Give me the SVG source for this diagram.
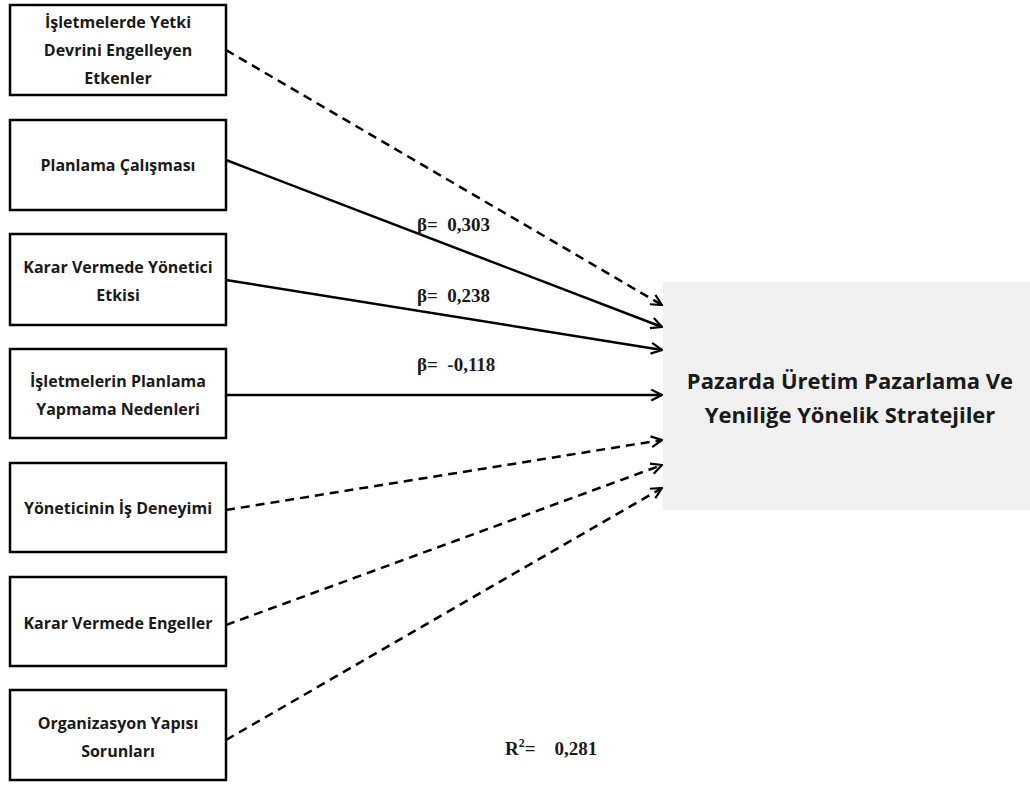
<svg xmlns="http://www.w3.org/2000/svg" width="1030" height="785" viewBox="0 0 1030 785">
<style>
.box{fill:#fff;stroke:#000;stroke-width:2.5}
.lbl{font-family:"Open Sans","Noto Sans",sans-serif;font-weight:700;font-size:16px;fill:#1a1a1a;text-anchor:middle}
.tgt{font-family:"Open Sans","Noto Sans",sans-serif;font-weight:700;font-size:22px;fill:#1a1a1a;text-anchor:middle}
.beta{font-family:"Liberation Serif",serif;font-weight:700;font-size:19px;fill:#1a1a1a;white-space:pre}
.solid{stroke:#000;stroke-width:2.5;fill:none;marker-end:url(#arr)}
.dash{stroke:#000;stroke-width:2.5;fill:none;stroke-dasharray:9,6;marker-end:url(#arr)}
</style>
<defs>
<marker id="arr" viewBox="0 0 12 12" refX="11" refY="6" markerWidth="13" markerHeight="13" orient="auto" markerUnits="userSpaceOnUse">
<path d="M1,1 L11,6 L1,11" fill="none" stroke="#000" stroke-width="2"/>
</marker>
</defs>
<rect width="1030" height="785" fill="#fff"/>
<g id="target">
<rect x="663" y="282" width="367" height="228" fill="#f0f0f0"/>
<text class="tgt" x="850" y="389">Pazarda Üretim Pazarlama Ve</text>
<text class="tgt" x="850" y="423">Yeniliğe Yönelik Stratejiler</text>
</g>
<g id="n1"><rect class="box" x="10" y="5" width="216" height="90"/>
<text class="lbl" x="118" y="28">İşletmelerde Yetki</text>
<text class="lbl" x="118" y="56">Devrini Engelleyen</text>
<text class="lbl" x="118" y="84">Etkenler</text></g>
<g id="n2"><rect class="box" x="10" y="120" width="216" height="90"/>
<text class="lbl" x="118" y="171">Planlama Çalışması</text></g>
<g id="n3"><rect class="box" x="10" y="234" width="216" height="91"/>
<text class="lbl" x="118" y="273">Karar Vermede Yönetici</text>
<text class="lbl" x="118" y="301">Etkisi</text></g>
<g id="n4"><rect class="box" x="10" y="349" width="216" height="89"/>
<text class="lbl" x="118" y="387">İşletmelerin Planlama</text>
<text class="lbl" x="118" y="415">Yapmama Nedenleri</text></g>
<g id="n5"><rect class="box" x="10" y="463" width="216" height="89"/>
<text class="lbl" x="118" y="514">Yöneticinin İş Deneyimi</text></g>
<g id="n6"><rect class="box" x="10" y="577" width="216" height="89"/>
<text class="lbl" x="118" y="629">Karar Vermede Engeller</text></g>
<g id="n7"><rect class="box" x="10" y="690" width="216" height="90"/>
<text class="lbl" x="118" y="729">Organizasyon Yapısı</text>
<text class="lbl" x="118" y="757">Sorunları</text></g>
<g id="connectors">
<line class="dash" x1="226" y1="50" x2="662" y2="305"/>
<line class="solid" x1="226" y1="160" x2="662" y2="327"/>
<line class="solid" x1="226" y1="280" x2="662" y2="350"/>
<line class="solid" x1="226" y1="395" x2="662" y2="395"/>
<line class="dash" x1="226" y1="510" x2="662" y2="440"/>
<line class="dash" x1="226" y1="625" x2="662" y2="465"/>
<line class="dash" x1="226" y1="740" x2="662" y2="488"/>
</g>
<text class="beta" x="417" y="231" xml:space="preserve">β=  0,303</text>
<text class="beta" x="417" y="302" xml:space="preserve">β=  0,238</text>
<text class="beta" x="417" y="371" xml:space="preserve">β=  -0,118</text>
<text class="beta" x="505" y="755" xml:space="preserve">R<tspan font-size="12" dy="-8">2</tspan><tspan dy="8">=    0,281</tspan></text>
</svg>
